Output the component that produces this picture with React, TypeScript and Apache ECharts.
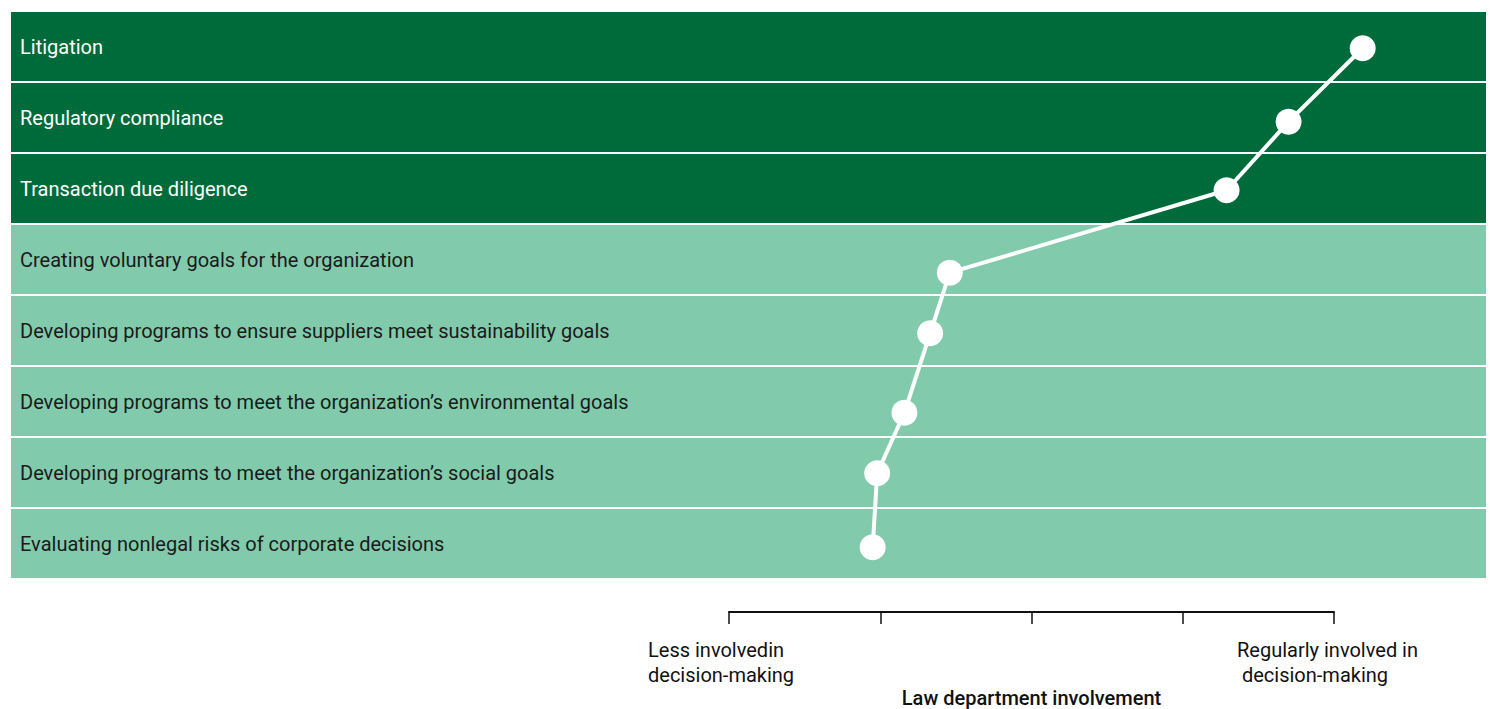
import React, { useEffect, useRef } from "react";
import * as echarts from "echarts";

const categories = [
  "Litigation",
  "Regulatory compliance",
  "Transaction due diligence",
  "Creating voluntary goals for the organization",
  "Developing programs to ensure suppliers meet sustainability goals",
  "Developing programs to meet the organization’s environmental goals",
  "Developing programs to meet the organization’s social goals",
  "Evaluating nonlegal risks of corporate decisions",
];
// group of each row: "core" (dark band) or "other" (light band)
const groups = ["core", "core", "core", "other", "other", "other", "other", "other"];
// involvement score on the 1–5 scale
const involvement = [5.19, 4.7, 4.29, 2.46, 2.33, 2.16, 1.98, 1.95];
// vertical position of each point, in rows counted from the bottom (0–8)
const rowPosition = [7.475, 6.441, 5.475, 4.314, 3.461, 2.342, 1.489, 0.446];
const scaleTicks = [1, 2, 3, 4, 5];
const scaleEndLabels = ["Less involvedin\ndecision-making", "Regularly involved in\n decision-making"];
const axisTitle = "Law department involvement";

const DARK = "#006b3a";
const LIGHT = "#81cbac";
const FONT = "Roboto, 'Open Sans', sans-serif";

export default function App() {
  const ref = useRef<HTMLDivElement>(null);
  useEffect(() => {
    if (!ref.current) return;
    const chart = echarts.init(ref.current, null, { renderer: "svg" });
    const n = categories.length;
    chart.setOption({
      animation: false,
      textStyle: { fontFamily: FONT },
      grid: [
        { left: 10, right: 7, top: 11, height: 568 },
        { left: 729, width: 605, top: 612, height: 0 },
      ],
      xAxis: [
        { type: "value", gridIndex: 0, min: -3.754, max: 6.012, show: false },
        { type: "value", gridIndex: 0, min: 0, max: 1, show: false },
        {
          type: "value",
          gridIndex: 1,
          min: scaleTicks[0],
          max: scaleTicks[scaleTicks.length - 1],
          interval: 1,
          position: "top",
          axisLine: { show: true, onZero: false, lineStyle: { color: "#111", width: 2 } },
          axisTick: { show: true, inside: true, length: 12, lineStyle: { color: "#111", width: 1.5 } },
          axisLabel: { show: false },
          splitLine: { show: false },
          name: axisTitle,
          nameLocation: "middle",
          nameGap: -96,
          nameTextStyle: { fontFamily: FONT, fontSize: 20, fontWeight: 500, color: "#111" },
        },
      ],
      yAxis: [
        { type: "category", gridIndex: 0, data: categories, inverse: true, show: false },
        { type: "value", gridIndex: 0, min: 0, max: n, show: false },
        { type: "value", gridIndex: 1, show: false },
      ],
      series: [
        {
          type: "bar",
          xAxisIndex: 1,
          yAxisIndex: 0,
          barWidth: "100%",
          silent: true,
          data: categories.map((c, i) => ({
            value: 1,
            name: c,
            itemStyle: { color: groups[i] === "core" ? DARK : LIGHT },
            label: { color: groups[i] === "core" ? "#ffffff" : "#1a1a1a" },
          })),
          itemStyle: { borderColor: "#ffffff", borderWidth: 1 },
          label: {
            show: true,
            position: "insideLeft",
            distance: 10,
            formatter: (p: any) => categories[p.dataIndex],
            fontFamily: FONT,
            fontSize: 20,
          },
        },
        {
          type: "line",
          xAxisIndex: 0,
          yAxisIndex: 1,
          data: involvement.map((v, i) => [v, rowPosition[i]]),
          symbol: "circle",
          symbolSize: 26,
          itemStyle: { color: "#ffffff" },
          lineStyle: { color: "#ffffff", width: 4 },
          z: 5,
        },
      ],
      graphic: [
        {
          type: "text",
          left: 648,
          top: 637,
          style: {
            text: scaleEndLabels[0],
            fontFamily: FONT,
            fontSize: 20,
            lineHeight: 25,
            fill: "#111",
          },
        },
        {
          type: "text",
          left: 1237,
          top: 637,
          style: {
            text: scaleEndLabels[1],
            fontFamily: FONT,
            fontSize: 20,
            lineHeight: 25,
            fill: "#111",
          },
        },
      ],
    });
    return () => chart.dispose();
  }, []);
  return <div ref={ref} style={{ width: 1494, height: 709, position: "absolute", left: 0, top: 0 }} />;
}
